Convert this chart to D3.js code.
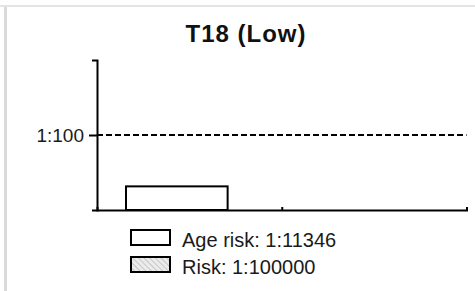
<!DOCTYPE html>
<html>
<head>
<meta charset="utf-8">
<script src="https://cdn.jsdelivr.net/npm/d3@7"></script>
<style>
  body { margin: 0; background: #fff; }
  svg { display: block; font-family: "Liberation Sans", Arial, sans-serif; }
</style>
</head>
<body>
<div id="chart"></div>
<script>
// chart values (risk expressed as the N of "1:N")
var title = "T18 (Low)";
var categories = ["Age risk", "Risk"];
var riskDenominators = [11346, 100000];
var cutoffDenominator = 100;
var tickLabels = ["1:100"];
var legendLabels = ["Age risk: 1:11346", "Risk: 1:100000"];

var width = 475, height = 291;
var margins = { left: 97, right: 8.5, top: 60, bottom: 81 };

var svg = d3.select("#chart")
	.append("svg")
	.attr("width", width)
	.attr("height", height);

// hatch used for the "Risk" series
var defs = svg.append("defs");
var pat = defs.append("pattern")
	.attr("id", "hatch")
	.attr("patternUnits", "userSpaceOnUse")
	.attr("width", 4)
	.attr("height", 4)
	.attr("patternTransform", "rotate(-45)");
pat.append("rect").attr("width", 4).attr("height", 4).attr("fill", "#ececec");
pat.append("line")
	.attr("x1", 0).attr("y1", 0).attr("x2", 0).attr("y2", 4)
	.style("stroke", "#bdbdbd")
	.style("stroke-width", 1.6);

// panel frame (light gray)
svg.append("line")
	.attr("x1", 0).attr("y1", 6).attr("x2", width).attr("y2", 6)
	.style("stroke", "#e4e4e4").style("stroke-width", 2);
svg.append("line")
	.attr("x1", 5.5).attr("y1", 7).attr("x2", 5.5).attr("y2", height)
	.style("stroke", "#dadada").style("stroke-width", 3);

var plotBottom = height - margins.bottom;
var plotRight = width - margins.right;

// log scale on the "1:N" denominator, large N at the bottom
var y = d3.scaleLog()
	.domain([100000, 0.1])
	.range([plotBottom, margins.top]);

var x = d3.scaleBand()
	.domain(categories)
	.range([margins.left, plotRight])
	.padding(0);

var xEdge = d3.scaleLinear()
	.domain([0, categories.length])
	.range([margins.left, plotRight]);

var g = svg.append("g");

// bars
g.selectAll("rect.bar")
	.data(categories)
	.enter()
	.append("rect")
	.attr("class", "bar")
	.attr("x", function(d) { return x(d) + x.bandwidth() * 0.157; })
	.attr("width", x.bandwidth() * 0.55)
	.attr("y", function(d, i) { return y(riskDenominators[i]); })
	.attr("height", function(d, i) { return plotBottom - y(riskDenominators[i]); })
	.style("fill", function(d, i) { return i == 0 ? "#fff" : "url(#hatch)"; })
	.style("stroke", "#000")
	.style("stroke-width", 2);

// cutoff line
g.append("line")
	.attr("x1", margins.left)
	.attr("x2", plotRight)
	.attr("y1", y(cutoffDenominator))
	.attr("y2", y(cutoffDenominator))
	.style("stroke", "#000")
	.style("stroke-width", 2)
	.style("stroke-dasharray", "6,3");

// y axis
var yAxis = g.append("g")
	.attr("transform", "translate(" + margins.left + ",0)")
	.call(d3.axisLeft(y)
		.tickValues([cutoffDenominator])
		.tickFormat(function(d, i) { return tickLabels[i]; })
		.tickSizeInner(8)
		.tickSizeOuter(5)
		.tickPadding(5));

// x axis, ticks on category edges pointing up
var xAxis = g.append("g")
	.attr("transform", "translate(0," + plotBottom + ")")
	.call(d3.axisBottom(xEdge)
		.tickValues(d3.range(1, categories.length))
		.tickFormat("")
		.tickSizeInner(-3)
		.tickSizeOuter(-3));

g.selectAll(".domain, .tick line")
	.style("stroke", "#000")
	.style("stroke-width", 2);
yAxis.selectAll("text")
	.style("font-family", "'Liberation Sans', Arial, sans-serif")
	.style("font-size", "19px")
	.style("fill", "#1a1a1a");

// title
svg.append("text")
	.attr("x", 246)
	.attr("y", 41.5)
	.attr("text-anchor", "middle")
	.style("font-size", "24px")
	.style("font-weight", "bold")
	.style("letter-spacing", "1px")
	.style("fill", "#111")
	.text(title);

// legend
var legend = svg.append("g").attr("transform", "translate(131,230)");
var items = legend.selectAll("g")
	.data(legendLabels)
	.enter()
	.append("g")
	.attr("transform", function(d, i) { return "translate(0," + (i * 27) + ")"; });
items.append("rect")
	.attr("width", 39)
	.attr("height", 15)
	.style("fill", function(d, i) { return i == 0 ? "#fff" : "url(#hatch)"; })
	.style("stroke", "#000")
	.style("stroke-width", 2);
items.append("text")
	.attr("x", 51)
	.attr("y", 16.5)
	.style("font-size", "20px")
	.style("fill", "#1a1a1a")
	.text(function(d) { return d; });
</script>
</body>
</html>
